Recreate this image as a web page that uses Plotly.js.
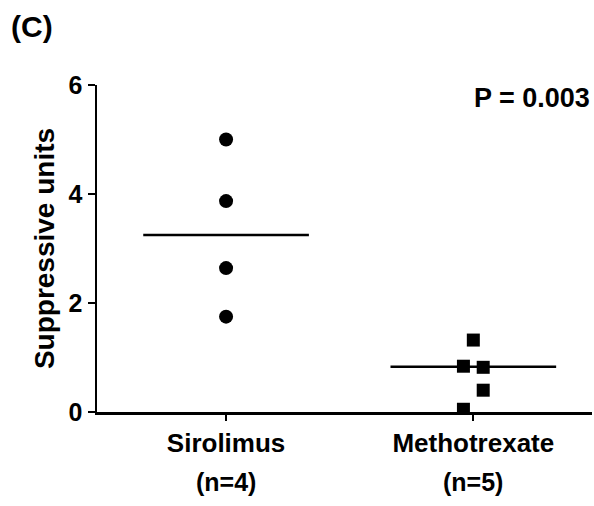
<!DOCTYPE html>
<html>
<head>
<meta charset="utf-8">
<script src="https://cdn.plot.ly/plotly-3.0.1.min.js"></script>
<style>html,body{margin:0;padding:0;background:#fff;}#chart{width:594px;height:506px;}</style>
</head>
<body>
<div id="chart"></div>
<script>
// ---- data ----
var groups = ["Sirolimus", "Methotrexate"];
var groupN = ["(n=4)", "(n=5)"];
var sirolimusValues = [5.0, 3.87, 2.64, 1.75];
var sirolimusOffsets = [0, 0, 0, 0];
var methotrexateValues = [1.32, 0.84, 0.82, 0.40, 0.05];
var methotrexateOffsets = [0, -0.04, 0.04, 0.04, -0.04];
var medians = [3.25, 0.83];
var yTicks = [0, 2, 4, 6];
var pText = "P = 0.003";
var panelLabel = "(C)";

var FONT = "Liberation Sans, Arial, sans-serif";
var HALF = 0.335;

var traces = [];
traces.push({
  type: "scatter", mode: "markers",
  x: sirolimusValues.map(function(v, i){ return 0 + sirolimusOffsets[i]; }),
  y: sirolimusValues,
  marker: {symbol: "circle", size: 14, color: "#000"},
  hoverinfo: "y", showlegend: false
});
traces.push({
  type: "scatter", mode: "markers",
  x: methotrexateValues.map(function(v, i){ return 1 + methotrexateOffsets[i]; }),
  y: methotrexateValues,
  marker: {symbol: "square", size: 13, color: "#000"},
  hoverinfo: "y", showlegend: false
});
medians.forEach(function(m, i){
  traces.push({
    type: "scatter", mode: "lines",
    x: [i - HALF, i + HALF], y: [m, m],
    line: {color: "#000", width: 2.5},
    hoverinfo: "skip", showlegend: false
  });
});

var annotations = [];
groupN.forEach(function(t, i){
  annotations.push({
    text: "<b>" + t + "</b>", x: i, xref: "x", y: -0.215, yref: "paper",
    yanchor: "middle", xanchor: "center", showarrow: false,
    font: {family: FONT, size: 25, color: "#000"}
  });
});
annotations.push({
  text: "<b>" + pText + "</b>", x: 1, xref: "paper", xanchor: "right",
  y: 0.96, yref: "paper", yanchor: "middle", showarrow: false,
  font: {family: FONT, size: 27, color: "#000"}
});
annotations.push({
  text: "<b>" + panelLabel + "</b>", x: -0.178, xref: "paper", xanchor: "left",
  y: 1.18, yref: "paper", yanchor: "middle", showarrow: false,
  font: {family: FONT, size: 30, color: "#000"}
});

var layout = {
  width: 594, height: 506,
  margin: {l: 97, r: 2, t: 85, b: 94},
  paper_bgcolor: "#fff", plot_bgcolor: "#fff",
  font: {family: FONT, color: "#000"},
  xaxis: {
    range: [-0.522, 1.48], showgrid: false, zeroline: false,
    showline: true, linecolor: "#000", linewidth: 2.5,
    tickmode: "array", tickvals: [0, 1],
    ticktext: groups.map(function(g){ return "<b>" + g + "</b>"; }),
    ticks: "outside", ticklen: 6, tickwidth: 2, tickcolor: "#000",
    tickfont: {family: FONT, size: 26, color: "#000"}
  },
  yaxis: {
    range: [0, 6], showgrid: false, zeroline: false,
    showline: true, linecolor: "#000", linewidth: 2.5,
    tickmode: "array", tickvals: yTicks,
    ticktext: yTicks.map(function(t){ return "<b>" + t + "</b>"; }),
    ticks: "outside", ticklen: 7, tickwidth: 2, tickcolor: "#000",
    tickfont: {family: FONT, size: 25, color: "#000"},
    title: {text: "<b>Suppressive units</b>", font: {family: FONT, size: 28, color: "#000"}, standoff: 6}
  },
  annotations: annotations
};

Plotly.newPlot("chart", traces, layout, {displayModeBar: false, staticPlot: true});
</script>
</body>
</html>
